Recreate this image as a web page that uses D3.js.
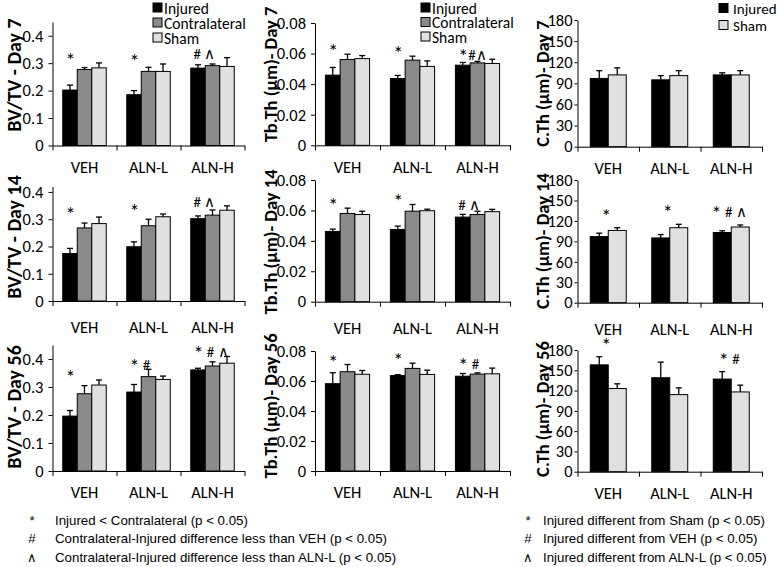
<!DOCTYPE html>
<html><head><meta charset="utf-8">
<script src="https://cdn.jsdelivr.net/npm/d3@7"></script>
<style>body{margin:0;background:#fff}svg{display:block}</style>
</head><body>
<svg id="c" width="778" height="567"></svg>
<script>
// ---------- data ----------
const categories = ["VEH", "ALN-L", "ALN-H"];
const seriesNames = ["Injured", "Contralateral", "Sham"];
const cthSeriesNames = ["Injured", "Sham"];

const bvtvTicks = [0, 0.1, 0.2, 0.3, 0.4];
const bvtvTickLabels = ["0", "0.1", "0.2", "0.3", "0.4"];
const tbthTicks = [0, 0.02, 0.04, 0.06, 0.08];
const tbthTickLabels = ["0", "0.02", "0.04", "0.06", "0.08"];
const cthTicks = [0, 30, 60, 90, 120, 150, 180];
const cthTickLabels = ["0", "30", "60", "90", "120", "150", "180"];

// rows: Injured, Contralateral, Sham ; columns: VEH, ALN-L, ALN-H
const bvtvDay7 = [[0.202, 0.185, 0.282], [0.277, 0.270, 0.291], [0.283, 0.270, 0.288]];
const bvtvDay7Err = [[0.018, 0.015, 0.012], [0.007, 0.015, 0.006], [0.018, 0.027, 0.032]];
const bvtvDay14 = [[0.174, 0.199, 0.302], [0.268, 0.276, 0.315], [0.284, 0.309, 0.333]];
const bvtvDay14Err = [[0.019, 0.018, 0.010], [0.018, 0.024, 0.019], [0.024, 0.010, 0.016]];
const bvtvDay56 = [[0.196, 0.282, 0.361], [0.276, 0.337, 0.375], [0.307, 0.327, 0.385]];
const bvtvDay56Err = [[0.020, 0.027, 0.006], [0.029, 0.026, 0.015], [0.018, 0.012, 0.024]];

const tbthDay7 = [[0.0459, 0.0437, 0.0524], [0.0561, 0.0557, 0.0539], [0.0567, 0.0516, 0.0535]];
const tbthDay7Err = [[0.0050, 0.0020, 0.0018], [0.0035, 0.0026, 0.0010], [0.0020, 0.0036, 0.0028]];
const tbthDay14 = [[0.0462, 0.0475, 0.0556], [0.0580, 0.0595, 0.0573], [0.0573, 0.0598, 0.0592]];
const tbthDay14Err = [[0.0015, 0.0022, 0.0018], [0.0035, 0.0044, 0.0022], [0.0022, 0.0010, 0.0015]];
const tbthDay56 = [[0.0582, 0.0636, 0.0632], [0.0662, 0.0684, 0.0646], [0.0645, 0.0644, 0.0648]];
const tbthDay56Err = [[0.0073, 0.0006, 0.0018], [0.0048, 0.0035, 0.0008], [0.0025, 0.0028, 0.0038]];

// rows: Injured, Sham
const cthDay7 = [[97, 95, 102], [102, 101, 102]];
const cthDay7Err = [[11, 6, 3], [10, 7, 6]];
const cthDay14 = [[97, 95, 103], [106, 110, 111]];
const cthDay14Err = [[5, 5, 2.5], [4, 5, 3]];
const cthDay56 = [[158, 139, 137], [123, 114, 118]];
const cthDay56Err = [[12, 23, 11], [7, 10, 10]];

// significance marks per category
const bvtvDay7Sig = ["*", "*", "# \u2227"];
const bvtvDay14Sig = ["*", "*", "# \u2227"];
const bvtvDay56Sig = ["*", "* #", "* # \u2227"];
const tbthDay7Sig = ["*", "*", "*#\u2227"];
const tbthDay14Sig = ["*", "*", "# \u2227"];
const tbthDay56Sig = ["*", "*", "* #"];
const cthDay7Sig = ["", "", ""];
const cthDay14Sig = ["*", "*", "* # \u2227"];
const cthDay56Sig = ["*", "", "* #"];

const footLeftSymbols = ["*", "#", "\u2227"];
const footLeftTexts = [
  "Injured < Contralateral (p < 0.05)",
  "Contralateral-Injured difference less than VEH (p < 0.05)",
  "Contralateral-Injured difference less than ALN-L (p < 0.05)"];
const footRightSymbols = ["*", "#", "\u2227"];
const footRightTexts = [
  "Injured different from Sham (p < 0.05)",
  "Injured different from VEH (p < 0.05)",
  "Injured different from ALN-L (p < 0.05)"];

// ---------- styles / layout ----------
const FONT = "Carlito, Lato, 'Open Sans', sans-serif";
const colorsBV = ["#000000", "#8a8a8a", "#e0e0e0"];
const colorsCT = ["#000000", "#e0e0e0"];

const colX = [[52.5, 244.5], [315, 510], [577.5, 762]];
const yBottom = [[145.5, 145.3, 146.7], [301, 301.7, 302.7], [471, 471, 471.7]];
const yTop = [[22, 23, 20], [186.5, 180, 180], [345, 351, 350]];
const bvMax = [0.45, 0.42, 0.45];
const labelCY = [[75, 74.5, 83.5], [237, 242, 241], [407, 406, 409]];
const labelCX = [14, 271, 543];
const labelSize = [20, 18.5, 18.5];
const xLabelOff = [27.5, 32, 27];

const svg = d3.select("#c");

const panels = [
  {row:0,col:0,label:"BV/TV - Day 7",v:bvtvDay7,e:bvtvDay7Err,sig:bvtvDay7Sig},
  {row:0,col:1,label:"Tb.Th (\u00b5m)- Day 7",v:tbthDay7,e:tbthDay7Err,sig:tbthDay7Sig},
  {row:0,col:2,label:"C.Th (\u00b5m)- Day 7",v:cthDay7,e:cthDay7Err,sig:cthDay7Sig},
  {row:1,col:0,label:"BV/TV - Day 14",v:bvtvDay14,e:bvtvDay14Err,sig:bvtvDay14Sig},
  {row:1,col:1,label:"Tb.Th (\u00b5m)- Day 14",v:tbthDay14,e:tbthDay14Err,sig:tbthDay14Sig},
  {row:1,col:2,label:"C.Th (\u00b5m)- Day 14",v:cthDay14,e:cthDay14Err,sig:cthDay14Sig},
  {row:2,col:0,label:"BV/TV - Day 56",v:bvtvDay56,e:bvtvDay56Err,sig:bvtvDay56Sig},
  {row:2,col:1,label:"Tb.Th (\u00b5m)- Day 56",v:tbthDay56,e:tbthDay56Err,sig:tbthDay56Sig},
  {row:2,col:2,label:"C.Th (\u00b5m)- Day 56",v:cthDay56,e:cthDay56Err,sig:cthDay56Sig}
];

function sigText(sel, txt) {
  [...txt].forEach(ch => {
    const ts = sel.append("tspan").text(ch);
    if (ch === "*") ts.attr("font-size", 20);
    else if (ch !== " ") ts.attr("font-size", 15);
  });
  let shift = 0;
  sel.selectAll("tspan").each(function() {
    const want = this.textContent === "*" ? 3 : 0;
    d3.select(this).attr("dy", want - shift);
    shift = want;
  });
}

panels.forEach(p => {
  const {row, col} = p;
  const [x0, x1] = colX[col];
  const yb = yBottom[row][col], yt = yTop[row][col];
  const ticks = col === 0 ? bvtvTicks : col === 1 ? tbthTicks : cthTicks;
  const tickLabels = col === 0 ? bvtvTickLabels : col === 1 ? tbthTickLabels : cthTickLabels;
  const ymax = col === 0 ? bvMax[row] : col === 1 ? 0.08 : 180;
  const names = col === 2 ? cthSeriesNames : seriesNames;
  const colors = col === 2 ? colorsCT : colorsBV;
  const pad = col === 2 ? 0.415 : 0.32;

  const y = d3.scaleLinear().domain([0, ymax]).range([yb, yt]);
  const x = d3.scaleBand().domain(categories).range([x0, x1]).paddingInner(pad).paddingOuter(pad / 2);
  const xs = d3.scaleBand().domain(names).range([0, x.bandwidth()]);
  const g = svg.append("g");

  // bars
  names.forEach((s, si) => {
    g.append("g").selectAll("rect").data(categories).join("rect")
      .attr("x", c => x(c) + xs(s))
      .attr("y", (c, ci) => y(p.v[si][ci]))
      .attr("width", xs.bandwidth())
      .attr("height", (c, ci) => y(0) - y(p.v[si][ci]))
      .attr("fill", colors[si])
      .attr("stroke", "#000").attr("stroke-width", 1);
    // error bars
    const eg = g.append("g").attr("stroke", "#000").attr("stroke-width", 1.3);
    categories.forEach((c, ci) => {
      const cx = x(c) + xs(s) + xs.bandwidth() / 2;
      const v = p.v[si][ci], e = p.e[si][ci];
      eg.append("line").attr("x1", cx).attr("x2", cx).attr("y1", y(v)).attr("y2", y(v + e));
      eg.append("line").attr("x1", cx - 3).attr("x2", cx + 3).attr("y1", y(v + e)).attr("y2", y(v + e));
    });
  });

  // y axis
  const ya = g.append("g").attr("transform", `translate(${x0},0)`)
    .call(d3.axisLeft(y).tickValues(ticks).tickFormat((d, i) => tickLabels[i])
      .tickSizeInner(col === 2 ? 3 : 4).tickSizeOuter(0).tickPadding(col === 2 ? 2 : 5));
  ya.selectAll("text").attr("font-family", FONT).attr("font-size", 16.5).attr("fill", "#000");
  ya.selectAll("line,path").attr("stroke", "#000");

  // x axis: boundary ticks
  const xl = d3.scaleLinear().domain([0, categories.length]).range([x0, x1]);
  const xa = g.append("g").attr("transform", `translate(0,${yb})`)
    .call(d3.axisBottom(xl).tickValues(d3.range(categories.length + 1)).tickFormat("").tickSizeInner(5).tickSizeOuter(0));
  xa.selectAll("line,path").attr("stroke", "#000");
  // x axis labels
  const xb = g.append("g").attr("transform", `translate(0,${yb})`)
    .call(d3.axisBottom(x).tickSize(0).tickPadding(0));
  xb.select(".domain").remove();
  xb.selectAll("text").attr("dy", null).attr("y", xLabelOff[row])
    .attr("font-family", FONT).attr("font-size", 16.5).attr("fill", "#000");

  // y label
  g.append("text")
    .attr("transform", `translate(${labelCX[col]},${labelCY[row][col]}) rotate(-90)`)
    .attr("text-anchor", "middle").attr("dy", "0.35em")
    .attr("font-family", FONT).attr("font-weight", "bold").attr("font-size", labelSize[col])
    .text(p.label);

  // significance marks
  categories.forEach((c, ci) => {
    const txt = p.sig[ci];
    if (!txt) return;
    const top = d3.max(names, (s, si) => p.v[si][ci] + p.e[si][ci]);
    const t = g.append("text").attr("font-family", FONT).attr("font-size", 15).attr("fill", "#000");
    if (col === 2) {
      t.attr("x", x(c) + x.bandwidth() / 2 - 2).attr("y", y(top) - 8).attr("text-anchor", "middle");
    } else {
      t.attr("x", x(c) + xs.bandwidth() / 2 - 4.5).attr("y", y(top) + 1).attr("text-anchor", "start");
    }
    sigText(t, txt);
  });
});

// legends
function legend(x, y0, step, names, colors, textGap, size) {
  const lg = svg.append("g");
  names.forEach((n, i) => {
    lg.append("rect").attr("x", x).attr("y", y0 + i * step).attr("width", 9).attr("height", 9)
      .attr("fill", colors[i]).attr("stroke", "#000").attr("stroke-width", 1);
    lg.append("text").attr("x", x + 9 + textGap).attr("y", y0 + i * step + 10.5)
      .attr("font-family", FONT).attr("font-size", size).attr("fill", "#000").text(n);
  });
}
legend(153, 3, 15, seriesNames, colorsBV, 2, 15.5);
legend(421, 3, 14.5, seriesNames, colorsBV, 2, 15.5);
legend(719, 3.5, 17, cthSeriesNames, colorsCT, 5, 15);

// footnotes
function foot(symX, textX, symbols, texts) {
  const fg = svg.append("g").attr("font-family", "'Liberation Sans', Arial, sans-serif").attr("font-size", 13.3).attr("fill", "#000");
  texts.forEach((t, i) => {
    const yy = 524.5 + i * 18.5;
    fg.append("text").attr("x", symX).attr("y", yy).attr("text-anchor", "middle").text(symbols[i]);
    fg.append("text").attr("x", textX).attr("y", yy).text(t);
  });
}
foot(32, 55, footLeftSymbols, footLeftTexts);
foot(528, 543, footRightSymbols, footRightTexts);
</script>
</body></html>
